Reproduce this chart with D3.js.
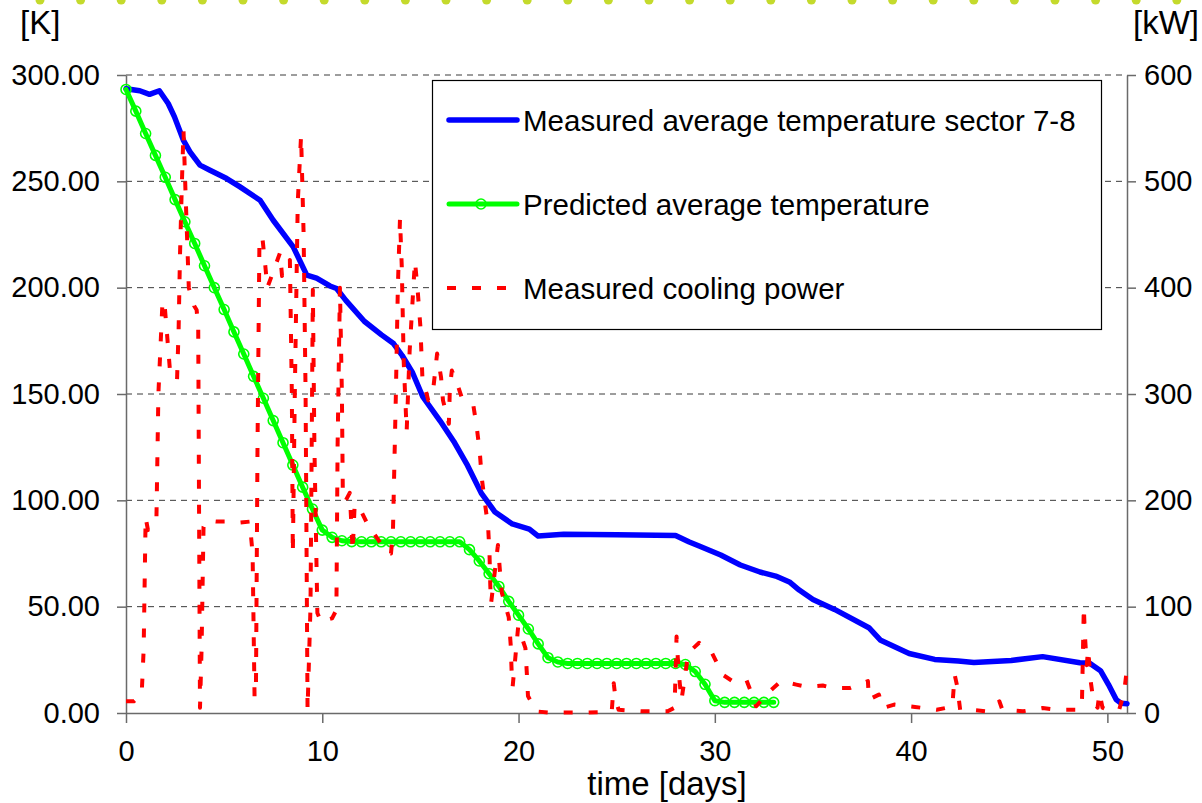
<!DOCTYPE html>
<html>
<head>
<meta charset="utf-8">
<script src="https://cdn.jsdelivr.net/npm/d3@7"></script>
<style>
  html, body { margin: 0; padding: 0; background: #ffffff; }
  svg { display: block; font-family: "Liberation Sans", Arial, sans-serif; }
</style>
</head>
<body>
<svg id="chart" width="1202" height="803"></svg>
<script>
// ---------------- data ----------------
const xTicks = [0, 10, 20, 30, 40, 50];
const yLeftTicks = [0, 50, 100, 150, 200, 250, 300];
const yRightTicks = [0, 100, 200, 300, 400, 500, 600];

const seriesNames = [
  "Measured average temperature sector 7-8",
  "Predicted average temperature",
  "Measured cooling power"
];

// Measured average temperature (K)
const blueDays = [0, 0.7, 1.2, 1.7, 2.15, 2.47, 2.92, 3.26, 3.77, 4.28, 5.13, 5.81, 6.83, 7.5, 8.52, 9.21, 9.71, 10.39, 10.73, 11.2, 12.14, 13.02, 13.63, 14.07, 14.6, 15.12, 16.0, 16.7, 17.4, 18.1, 18.8, 19.68, 20.55, 21.0, 22.3, 25.0, 28.0, 28.7, 29.2, 30.3, 31.3, 32.3, 33.1, 33.8, 34.3, 35.0, 36.1, 37.85, 38.45, 39.9, 41.2, 42.4, 43.2, 45.1, 46.7, 48.6, 49.1, 49.65, 50.05, 50.45, 50.7, 51.0];
const blueK = [293.5, 292.6, 290.9, 292.6, 286.6, 280.3, 269.4, 263.9, 257.6, 255.2, 251.3, 247.4, 241.1, 231.7, 219.2, 205.9, 204.5, 200.8, 199.6, 194.0, 184.2, 177.8, 173.7, 168.1, 160.0, 148.7, 137.4, 127.7, 116.4, 103.4, 94.5, 88.9, 86.5, 83.2, 84.0, 83.8, 83.5, 80.4, 78.5, 74.3, 69.6, 66.3, 64.4, 61.6, 57.8, 53.4, 48.7, 40.1, 34.2, 28.0, 25.2, 24.4, 23.8, 24.7, 26.5, 23.6, 23.4, 19.9, 13.5, 6.3, 4.6, 4.4];

// Predicted average temperature (K), one point per half day
const greenDays = [0, 0.5, 1, 1.5, 2, 2.5, 3, 3.5, 4, 4.5, 5, 5.5, 6, 6.5, 7, 7.5, 8, 8.5, 9, 9.5, 10, 10.5, 11, 11.5, 12, 12.5, 13, 13.5, 14, 14.5, 15, 15.5, 16, 16.5, 17, 17.5, 18, 18.5, 19, 19.5, 20, 20.5, 21, 21.5, 22, 22.5, 23, 23.5, 24, 24.5, 25, 25.5, 26, 26.5, 27, 27.5, 28, 28.5, 29, 29.5, 30, 30.5, 31, 31.5, 32, 32.5, 33];
const greenK = [293.2, 283.0, 272.5, 262.2, 251.9, 241.4, 231.0, 220.8, 210.3, 200.0, 189.7, 179.2, 168.8, 158.3, 148.0, 137.5, 127.1, 116.6, 106.2, 95.9, 86.0, 82.6, 81.0, 80.6, 80.5, 80.5, 80.5, 80.5, 80.5, 80.5, 80.5, 80.5, 80.5, 80.5, 80.5, 76.8, 71.5, 65.5, 59.5, 52.5, 46.0, 39.5, 32.5, 26.0, 24.0, 23.3, 23.3, 23.3, 23.3, 23.3, 23.3, 23.3, 23.3, 23.3, 23.3, 23.3, 23.3, 22.8, 19.5, 13.5, 5.8, 5.0, 5.0, 5.0, 5.0, 5.0, 5.0];

// Measured cooling power (kW), right axis
const redDays = [0.0, 0.4, 0.8, 0.9, 1.0, 1.12, 1.55, 1.65, 1.85, 1.95, 2.25, 2.6, 2.68, 2.75, 2.85, 2.93, 3.05, 3.2, 3.3, 3.47, 3.6, 3.68, 3.72, 3.77, 3.85, 3.95, 4.1, 4.6, 5.2, 5.8, 6.3, 6.45, 6.55, 6.62, 6.7, 6.8, 6.95, 7.1, 7.2, 7.6, 7.85, 7.95, 8.35, 8.45, 8.5, 8.6, 8.75, 8.92, 9.05, 9.15, 9.25, 9.4, 9.52, 9.6, 9.75, 9.95, 10.3, 10.5, 10.72, 10.78, 10.9, 11.0, 11.05, 11.2, 11.4, 11.55, 11.65, 12.0, 12.35, 12.85, 13.2, 13.5, 13.6, 13.75, 13.85, 13.96, 14.05, 14.15, 14.3, 14.45, 14.72, 14.85, 15.0, 15.1, 15.4, 15.65, 15.85, 16.05, 16.15, 16.45, 16.5, 16.6, 16.85, 17.1, 17.45, 17.7, 17.87, 18.03, 18.12, 18.29, 18.45, 18.52, 18.56, 18.6, 18.95, 19.05, 19.15, 19.5, 19.6, 19.65, 19.7, 19.98, 20.35, 20.42, 20.48, 20.9, 21.5, 22.5, 23.5, 24.5, 24.75, 24.85, 24.95, 25.1, 26.35, 27.6, 27.95, 28.05, 28.15, 28.3, 28.65, 29.2, 29.85, 30.4, 30.9, 31.6, 31.8, 32.1, 32.8, 33.37, 34.15, 34.7, 35.5, 36.0, 36.9, 37.8, 37.85, 38.36, 38.55, 39.14, 40.2, 41.3, 42.1, 42.22, 42.35, 42.5, 43.05, 43.8, 44.5, 44.65, 45.7, 46.7, 47.4, 48.5, 48.7, 48.8, 48.85, 48.95, 49.02, 49.15, 49.3, 49.5, 49.6, 49.75, 50.0, 50.6, 50.85, 51.0];
const redKW = [11, 11, 18, 60, 184, 172, 182, 300, 383, 388, 320, 313, 360, 430, 500, 548, 480, 400, 393, 383, 379, 361, 200, 5, 60, 175, 181, 180, 180, 179, 180, 150, 15, 20, 250, 447, 447, 420, 400, 420, 433, 411, 426, 300, 150, 300, 480, 543, 450, 300, 3, 100, 398, 250, 94, 85, 88, 89, 97, 250, 400, 300, 200, 200, 207, 152, 196, 189, 176, 163, 153, 150, 170, 300, 400, 465, 420, 330, 265, 340, 425, 400, 363, 316, 294, 304, 338, 316, 294, 272, 305, 322, 311, 297, 291, 289, 269, 244, 222, 197, 175, 150, 120, 103, 158, 134, 113, 90, 64, 38, 25, 81, 61, 38, 16, 1.5, 0.5, 0.5, 0.5, 1, 2, 28, 12, 3, 1.6, 1.6, 5, 72, 40, 12, 56.6, 66, 56.6, 36, 30, 31.4, 22, 6.3, 20.4, 30, 26.7, 24.5, 25.8, 23.6, 23.6, 30, 12.6, 17.3, 4.7, 7.9, 5.7, 3, 6, 36, 25, 3, 3, 1.6, 11, 3, 1.6, 4.7, 3, 3, 5, 100, 75, 45, 60, 30, 10, 5, 19, 5, 3, 3, 19, 42];

// ---------------- chart ----------------
const svg = d3.select("#chart");
svg.append("rect").attr("width", 1202).attr("height", 803).attr("fill", "#ffffff");

const X0 = 126, X1 = 1127, Y0 = 713, Y1 = 75;
const x = d3.scaleLinear().domain([0, 51]).range([X0, X1]);
const yL = d3.scaleLinear().domain([0, 300]).range([Y0, Y1]);
const yR = d3.scaleLinear().domain([0, 600]).range([Y0, Y1]);

// decorative dotted strip at top
const dotX = d3.range(0, 29).map(i => 40 + i * 40.6);
svg.append("g").selectAll("circle").data(dotX).join("circle")
  .attr("cx", d => d).attr("cy", 0).attr("r", 4.5).attr("fill", "#c4da2c");

// gridlines
svg.append("g").selectAll("line").data(yLeftTicks.filter(d => d > 0)).join("line")
  .attr("x1", X0).attr("x2", X1)
  .attr("y1", d => yL(d)).attr("y2", d => yL(d))
  .attr("stroke", "#3a3a3a").attr("stroke-width", 1)
  .attr("stroke-dasharray", "6,5");

const axisColor = "#6a6a6a";
const fontSize = 29;

function styleAxis(g) {
  g.selectAll("path.domain").attr("stroke", axisColor).attr("stroke-width", 1.5);
  g.selectAll(".tick line").attr("stroke", axisColor).attr("stroke-width", 1.5);
  g.selectAll("text").attr("fill", "#000").attr("font-size", fontSize)
    .attr("font-family", "Liberation Sans, Arial, sans-serif");
}

const gL = svg.append("g").attr("transform", `translate(${X0},0)`)
  .call(d3.axisLeft(yL).tickValues(yLeftTicks).tickSize(9).tickSizeOuter(0)
    .tickPadding(17).tickFormat(d3.format(".2f")));
styleAxis(gL);

const gR = svg.append("g").attr("transform", `translate(${X1},0)`)
  .call(d3.axisRight(yR).tickValues(yRightTicks).tickSize(9).tickSizeOuter(0)
    .tickPadding(8).tickFormat(d3.format("d")));
styleAxis(gR);

const gB = svg.append("g").attr("transform", `translate(0,${Y0})`)
  .call(d3.axisBottom(x).tickValues(xTicks).tickSize(10).tickSizeOuter(0)
    .tickPadding(17).tickFormat(d3.format("d")));
styleAxis(gB);

// series
const blueData = blueDays.map((d, i) => [d, blueK[i]]);
const greenData = greenDays.map((d, i) => [d, greenK[i]]);
const redData = redDays.map((d, i) => [d, redKW[i]]);

const lineL = d3.line().x(d => x(d[0])).y(d => yL(d[1]));
const lineR = d3.line().x(d => x(d[0])).y(d => yR(d[1]));

svg.append("path").datum(blueData).attr("d", lineL)
  .attr("fill", "none").attr("stroke", "#0000ff").attr("stroke-width", 5.5)
  .attr("stroke-linejoin", "round").attr("stroke-linecap", "round");

svg.append("path").datum(greenData).attr("d", lineL)
  .attr("fill", "none").attr("stroke", "#00ff00").attr("stroke-width", 5)
  .attr("stroke-linejoin", "round").attr("stroke-linecap", "round");
svg.append("g").selectAll("circle").data(greenData).join("circle")
  .attr("cx", d => x(d[0])).attr("cy", d => yL(d[1])).attr("r", 5)
  .attr("fill", "none").attr("stroke", "#00ff00").attr("stroke-width", 1.6);

svg.append("path").datum(redData).attr("d", lineR)
  .attr("fill", "none").attr("stroke", "#ff0000").attr("stroke-width", 4)
  .attr("stroke-dasharray", "9,16").attr("stroke-linejoin", "round");

// axis unit labels
svg.append("text").attr("x", 20).attr("y", 34).attr("font-size", 33).text("[K]");
svg.append("text").attr("x", 1133).attr("y", 34).attr("font-size", 33).text("[kW]");
svg.append("text").attr("x", 667).attr("y", 795).attr("text-anchor", "middle")
  .attr("font-size", 33).text("time [days]");

// legend
const lg = svg.append("g");
lg.append("rect").attr("x", 432.5).attr("y", 80.5).attr("width", 669).attr("height", 249)
  .attr("fill", "#ffffff").attr("stroke", "#000").attr("stroke-width", 1.2);
const legY = [120, 204, 288];
lg.append("line").attr("x1", 449).attr("x2", 517).attr("y1", legY[0]).attr("y2", legY[0])
  .attr("stroke", "#0000ff").attr("stroke-width", 5.5).attr("stroke-linecap", "round");
lg.append("line").attr("x1", 449).attr("x2", 517).attr("y1", legY[1]).attr("y2", legY[1])
  .attr("stroke", "#00ff00").attr("stroke-width", 5).attr("stroke-linecap", "round");
lg.append("circle").attr("cx", 481).attr("cy", legY[1]).attr("r", 5)
  .attr("fill", "none").attr("stroke", "#00ff00").attr("stroke-width", 1.6);
lg.append("line").attr("x1", 447).attr("x2", 518).attr("y1", legY[2]).attr("y2", legY[2])
  .attr("stroke", "#ff0000").attr("stroke-width", 4).attr("stroke-dasharray", "9,16");
lg.selectAll("text.leg").data(seriesNames).join("text").attr("class", "leg")
  .attr("x", 523).attr("y", (d, i) => legY[i] + 11)
  .attr("font-size", 29.5).attr("fill", "#000").text(d => d);
</script>
</body>
</html>
